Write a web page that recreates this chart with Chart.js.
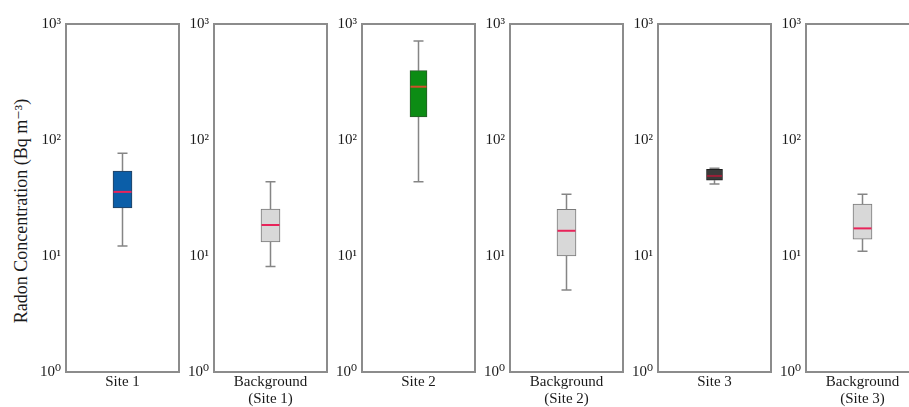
<!DOCTYPE html>
<html>
<head>
<meta charset="utf-8">
<script src="https://cdn.jsdelivr.net/npm/chart.js@4.4.0/dist/chart.umd.min.js"></script>
<style>
html,body{margin:0;padding:0;background:#fff;overflow:hidden;width:909px;height:407px;}
.p{position:absolute;top:0;}
#yt{position:absolute;left:21px;top:211px;transform:translate(-50%,-50%) rotate(-90deg);white-space:nowrap;
    font-family:'Liberation Serif','DejaVu Serif',serif;font-size:18px;color:#1a1a1a;line-height:1;}
</style>
</head>
<body>
<div id="yt"></div>
<script>
// ---- data ----
const categories = [['Site 1'], ['Background', '(Site 1)'], ['Site 2'], ['Background', '(Site 2)'], ['Site 3'], ['Background', '(Site 3)']];
const whiskerLow  = [12.2, 8.1, 43.7, 5.1, 41.7, 11.0];
const q1          = [26.0, 13.2, 158, 10.0, 45.0, 14.0];
const median      = [35.7, 18.5, 288, 16.5, 49.0, 17.3];
const q3          = [54.0, 25.4, 396, 25.2, 56.0, 28.0];
const whiskerHigh = [77.0, 43.7, 713, 34.0, 57.0, 34.0];
const yTicks      = [1, 10, 100, 1000];
const yTickLabels = ['10\u2070', '10\u00B9', '10\u00B2', '10\u00B3'];
const yTitle = 'Radon Concentration (Bq m\u207B\u00B3)';

document.getElementById('yt').textContent = yTitle;

// ---- styles ----
const boxFill = ['#0b5ea8', '#d8d8d8', '#0c8c14', '#d8d8d8', '#3a3a3a', '#d8d8d8'];
const boxEdge = ['#27405c', '#7a7a7a', '#2a5a2a', '#7a7a7a', '#1e1e1e', '#7a7a7a'];
const medColor = ['#e8245a', '#e8245a', '#d0502a', '#e8245a', '#9a2038', '#e8245a'];
const boxW = [19, 19, 17, 19, 16, 19];
const panelLeft = [66, 214, 362, 510, 658, 806];
const panelW = 113;
const FONT = "'Liberation Serif', 'DejaVu Serif', serif";

const boxPlugin = {
  id: 'boxparts',
  beforeDatasetsDraw(chart) {
    const i = chart.options.plugins.boxparts.idx;
    const xs = chart.scales.x, ys = chart.scales.y;
    const cx = xs.getPixelForValue(0);
    const ctx = chart.ctx;
    ctx.save();
    ctx.strokeStyle = '#858585';
    ctx.lineWidth = 1.5;
    ctx.beginPath();
    ctx.moveTo(cx, ys.getPixelForValue(whiskerLow[i]));
    ctx.lineTo(cx, ys.getPixelForValue(q1[i]));
    ctx.moveTo(cx, ys.getPixelForValue(q3[i]));
    ctx.lineTo(cx, ys.getPixelForValue(whiskerHigh[i]));
    ctx.stroke();
    ctx.beginPath();
    [whiskerLow[i], whiskerHigh[i]].forEach(v => {
      const y = ys.getPixelForValue(v);
      ctx.moveTo(cx - 5, y); ctx.lineTo(cx + 5, y);
    });
    ctx.stroke();
    ctx.restore();
  },
  afterDatasetsDraw(chart) {
    const i = chart.options.plugins.boxparts.idx;
    const xs = chart.scales.x, ys = chart.scales.y;
    const cx = xs.getPixelForValue(0);
    const ctx = chart.ctx;
    const y = ys.getPixelForValue(median[i]);
    const hw = boxW[i] / 2;
    ctx.save();
    ctx.strokeStyle = medColor[i];
    ctx.lineWidth = 2;
    ctx.beginPath();
    ctx.moveTo(cx - hw + 0.5, y); ctx.lineTo(cx + hw - 0.5, y);
    ctx.stroke();
    const a = chart.chartArea;
    ctx.strokeStyle = '#8c8c8c';
    ctx.lineWidth = 2;
    ctx.strokeRect(a.left, a.top, a.right - a.left, a.bottom - a.top);
    ctx.restore();
  }
};

for (let i = 0; i < categories.length; i++) {
  const yw = i === 0 ? 66 : 46;
  const left = panelLeft[i] - yw;
  const w = yw + panelW + 2;
  const div = document.createElement('div');
  div.className = 'p';
  div.style.left = left + 'px';
  div.style.width = w + 'px';
  div.style.height = '407px';
  const cv = document.createElement('canvas');
  cv.width = w; cv.height = 407;
  cv.style.width = w + 'px'; cv.style.height = '407px';
  div.appendChild(cv);
  document.body.appendChild(div);

  new Chart(cv, {
    type: 'bar',
    data: {
      labels: [categories[i]],
      datasets: [{
        data: [[q1[i], q3[i]]],
        backgroundColor: boxFill[i],
        borderColor: boxEdge[i],
        borderWidth: 1,
        borderSkipped: false,
        barThickness: boxW[i]
      }]
    },
    options: {
      responsive: false,
      animation: false,
      devicePixelRatio: 1,
      layout: { padding: { top: 24, right: 2, left: 0, bottom: 0 } },
      plugins: {
        legend: { display: false },
        tooltip: { enabled: false },
        boxparts: { idx: i }
      },
      scales: {
        x: {
          type: 'category',
          grid: { display: false, drawTicks: false, tickLength: 0 },
          border: { display: false },
          ticks: { color: '#1a1a1a', font: { family: FONT, size: 15, lineHeight: 1.1 }, padding: 2, maxRotation: 0, autoSkip: false },
          afterFit(s) { s.height = 35; }
        },
        y: {
          type: 'logarithmic',
          min: 1, max: 1000,
          grid: { display: false, drawTicks: false, tickLength: 0 },
          border: { display: false },
          afterBuildTicks(s) { s.ticks = yTicks.map(v => ({ value: v, major: true })); },
          ticks: {
            color: '#1a1a1a',
            font: { family: FONT, size: 15 },
            padding: 5,
            callback(v) { const k = yTicks.indexOf(v); return k >= 0 ? yTickLabels[k] : null; }
          },
          afterFit(s) { s.width = yw; }
        }
      }
    },
    plugins: [boxPlugin]
  });
}
</script>
</body>
</html>
